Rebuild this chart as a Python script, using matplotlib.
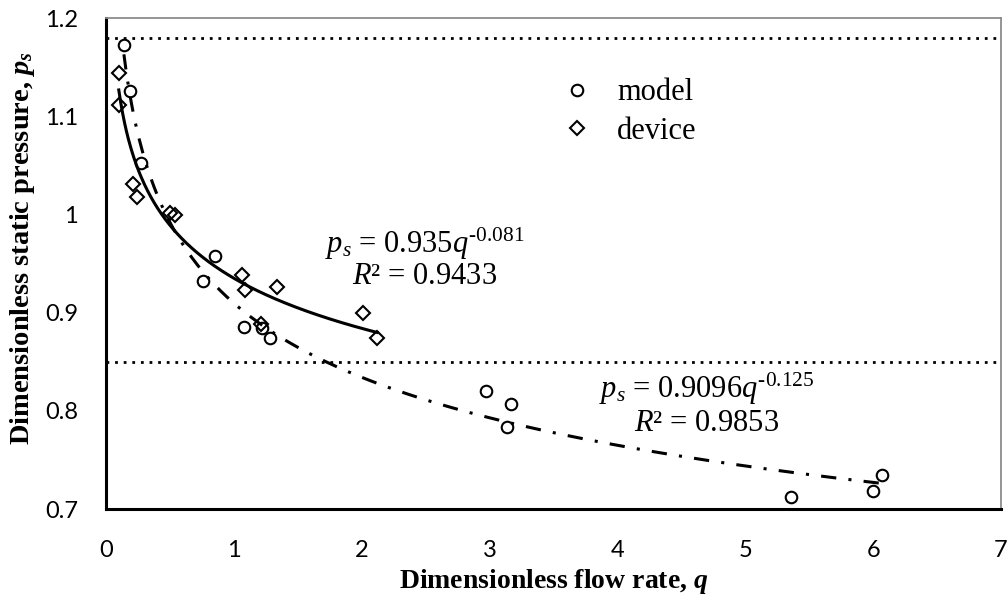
import numpy as np
import matplotlib
matplotlib.use("Agg")
import matplotlib.pyplot as plt

# ---- data ----
model_q = [0.14, 0.19, 0.27, 0.76, 0.85, 1.08, 1.22, 1.28, 2.97, 3.17, 3.14, 5.36, 6.00, 6.07]
model_ps = [1.172, 1.126, 1.052, 0.932, 0.958, 0.885, 0.884, 0.874, 0.820, 0.807, 0.784, 0.712, 0.718, 0.735]

device_q = [0.10, 0.10, 0.21, 0.24, 0.50, 0.54, 1.06, 1.09, 1.34, 1.21, 2.01, 2.12]
device_ps = [1.144, 1.111, 1.031, 1.018, 1.001, 0.999, 0.938, 0.923, 0.926, 0.888, 0.900, 0.874]

# power-law trendlines p_s = a q^b
model_fit = (0.9096, -0.125)
device_fit = (0.935, -0.081)

limit_lines = [1.18, 0.85]

x_ticks = [0, 1, 2, 3, 4, 5, 6, 7]
x_ticklabels = ["0", "1", "2", "3", "4", "5", "6", "7"]
y_ticks = [0.7, 0.8, 0.9, 1.0, 1.1, 1.2]
y_ticklabels = ["0.7", "0.8", "0.9", "1", "1.1", "1.2"]

plt.rcParams['mathtext.fontset'] = 'custom'
plt.rcParams['mathtext.rm'] = 'Liberation Serif'
plt.rcParams['mathtext.it'] = 'Liberation Serif:italic'
plt.rcParams['mathtext.bf'] = 'Liberation Serif:bold'
plt.rcParams['mathtext.bfit'] = 'Liberation Serif:bold:italic'

fig = plt.figure(figsize=(10.08, 6.05), dpi=100)
ax = fig.add_axes([106/1008, 1 - 509/605, (1001-106)/1008, (509-18)/605])

ax.set_xlim(0, 7)
ax.set_ylim(0.7, 1.2)

# reference lines
for yv in limit_lines:
    ax.axhline(yv, color='black', lw=2.0, linestyle=(0, (1, 2.1)), zorder=1)

# trendlines
qm = np.linspace(min(model_q), max(model_q), 400)
ax.plot(qm, model_fit[0] * qm ** model_fit[1], color='black', lw=2.2,
        linestyle=(0, (5, 4, 1, 4)), zorder=2)
qd = np.linspace(min(device_q), max(device_q), 400)
ax.plot(qd, device_fit[0] * qd ** device_fit[1], color='black', lw=2.2,
        linestyle='-', zorder=2)

# markers
ax.plot(model_q, model_ps, linestyle='none', marker='o', ms=8.3, mew=1.5,
        mfc='none', mec='black', label='model', zorder=3)
ax.plot(device_q, device_ps, linestyle='none', marker='D', ms=7.0, mew=1.5,
        mfc='none', mec='black', label='device', zorder=3)

# spines
for s in ['left', 'bottom']:
    ax.spines[s].set_color('black')
    ax.spines[s].set_linewidth(2.2)
for s in ['top', 'right']:
    ax.spines[s].set_color('#8c8c8c')
    ax.spines[s].set_linewidth(1.3)

ax.set_xticks(x_ticks)
ax.set_xticklabels(x_ticklabels)
ax.set_yticks(y_ticks)
ax.set_yticklabels(y_ticklabels)
ax.tick_params(axis='both', length=0, labelsize=17)
ax.tick_params(axis='x', pad=22)
ax.tick_params(axis='y', pad=20)
for lab in ax.get_xticklabels() + ax.get_yticklabels():
    lab.set_fontfamily('Lato')

# axis labels
fig.text(554/1008, 1 - 582/605, r"Dimensionless flow rate, $\mathbfit{q}$",
         ha='center', va='center', fontsize=20, fontweight='bold',
         family='Liberation Serif')
fig.text(23/1008, 1 - 248/605, r"Dimensionless static pressure, $\mathbfit{p}_{\mathbfit{s}}$",
         ha='center', va='center', rotation=90, fontsize=20.5, fontweight='bold',
         family='Liberation Serif')

# equations
ax.text(2.49, 0.970, r"$p_s$ = 0.935$q^{\text{-0.081}}$", ha='center', va='center',
        fontsize=22, family='Liberation Serif')
ax.text(2.49, 0.937, r"$R$² = 0.9433", ha='center', va='center',
        fontsize=22, family='Liberation Serif')
ax.text(4.70, 0.822, r"$p_s$ = 0.9096$q^{\text{-0.125}}$", ha='center', va='center',
        fontsize=22, family='Liberation Serif')
ax.text(4.70, 0.787, r"$R$² = 0.9853", ha='center', va='center',
        fontsize=22, family='Liberation Serif')

leg = ax.legend(loc='center left', bbox_to_anchor=((562-106)/895, (509-112)/491),
                frameon=False, borderpad=0, borderaxespad=0, handlelength=1.0,
                handletextpad=0.80, labelspacing=0.3,
                prop={'family': 'Liberation Serif', 'size': 22})

fig.savefig("out.png", dpi=100)
